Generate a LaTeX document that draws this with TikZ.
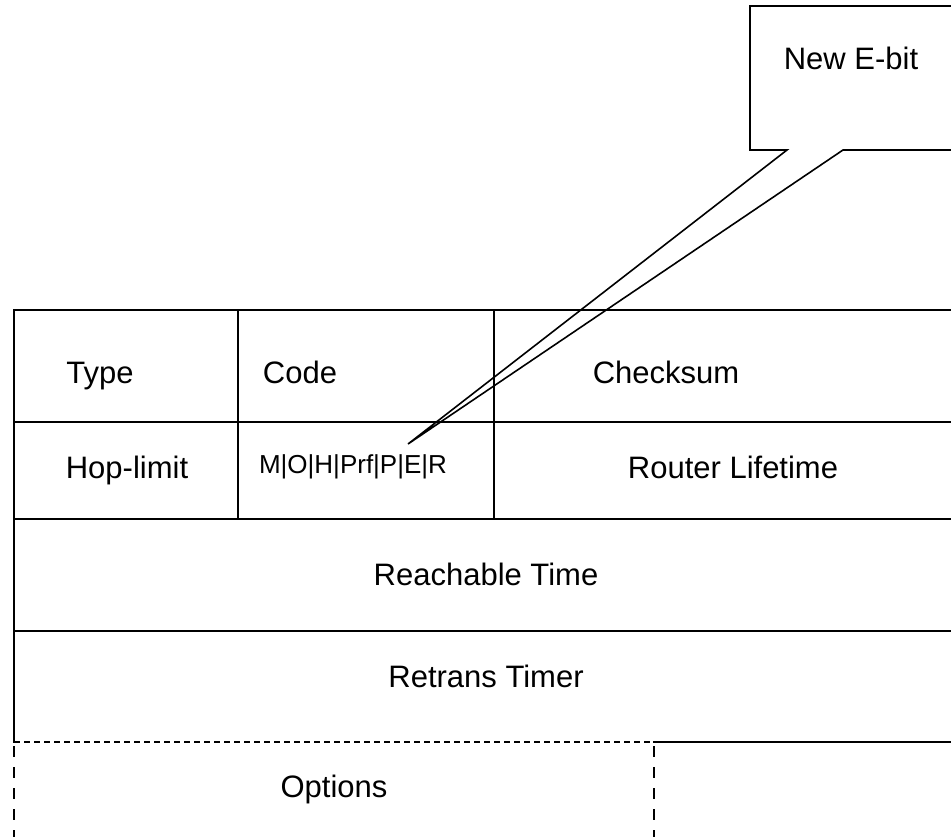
\documentclass[tikz,border=0pt]{standalone}
\usepackage{fontspec}
\setmainfont{Liberation Sans}
\begin{document}
\begin{tikzpicture}[x=1pt,y=-1pt,
  frame/.style={line width=1.6pt, line cap=rect},
  hdash/.style={line width=1.3pt, dash pattern=on 6pt off 4pt},
  vdash/.style={line width=1.3pt, dash pattern=on 11pt off 10pt},
  lbl/.style={anchor=base, inner sep=0pt, font=\fontsize{31}{37}\selectfont},
  flags/.style={anchor=base, inner sep=0pt, font=\fontsize{26}{31}\selectfont}]
\useasboundingbox (0,0) rectangle (951,837);
\clip (0,0) rectangle (951,837);
\fill[white] (0,0) rectangle (951,837);

% callout pointing at the E flag
\coordinate (tip) at (408,444);
\draw[frame, line join=miter] (970,6) -- (750,6) -- (750,150) -- (787,150)
  -- (tip) -- (843,150) -- (970,150);
\node[lbl] (note) at (851,70) {New E-bit};

% packet header grid
\draw[frame] (14,742) -- (14,310) -- (970,310);
\draw[frame] (14,422) -- (970,422);
\draw[frame] (14,519) -- (970,519);
\draw[frame] (14,631) -- (970,631);
\draw[frame] (654,742) -- (970,742);
\draw[frame] (238,310) -- (238,519);
\draw[frame] (494,310) -- (494,519);

% options field, variable length
\draw[hdash] (14,742) -- (654,742);
\draw[vdash] (14,746) -- (14,850);
\draw[vdash] (654,746) -- (654,850);

% field labels
\node[lbl] (type) at (100,383) {Type};
\node[lbl] (code) at (300,383) {Code};
\node[lbl] (cks) at (666,383) {Checksum};
\node[lbl] (hop) at (127,478) {Hop-limit};
\node[flags] (flg) at (353,473) {M|O|H|Prf|P|E|R};
\node[lbl] (rlt) at (733,478) {Router Lifetime};
\node[lbl] (reach) at (486,585) {Reachable Time};
\node[lbl] (retr) at (486,687) {Retrans Timer};
\node[lbl] (opt) at (334,797) {Options};
\end{tikzpicture}
\end{document}
